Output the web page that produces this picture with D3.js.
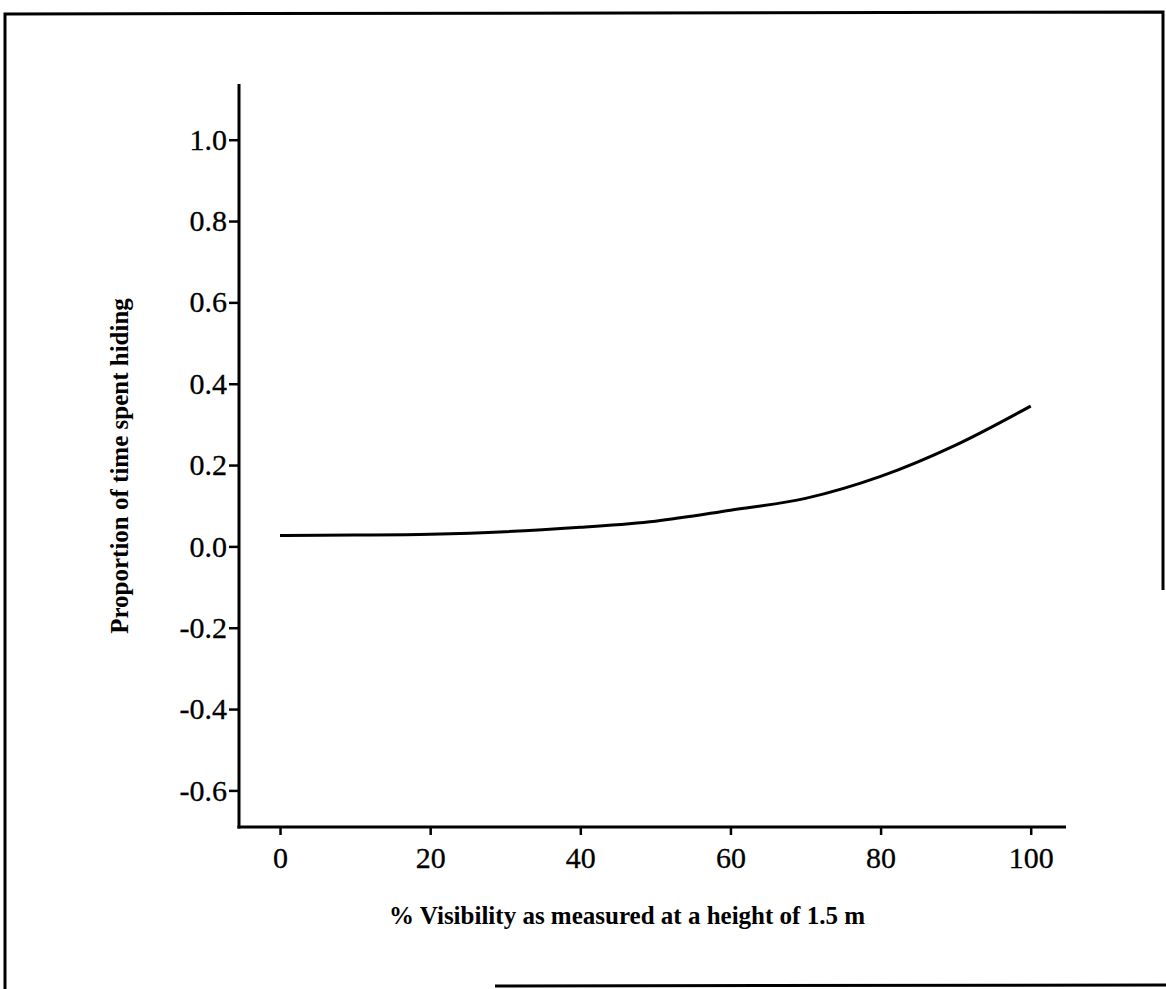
<!DOCTYPE html>
<html>
<head>
<meta charset="utf-8">
<script src="https://cdn.jsdelivr.net/npm/d3@7"></script>
<style>
  body { margin: 0; background: #fff; }
  svg { display: block; }
  .tick text { font-family: "Liberation Serif", "Times New Roman", serif; font-size: 30px; fill: #000; stroke: #000; stroke-width: 0.3px; }
  .title { font-family: "Liberation Serif", "Times New Roman", serif; font-size: 25px; font-weight: bold; fill: #000; }
</style>
</head>
<body>
<div id="chart"></div>
<script>
const width = 1166, height = 989;

// fitted curve
const visibility = [0, 10, 20, 30, 40, 50, 60, 70, 80, 90, 100];
const hiding = [0.027, 0.028, 0.030, 0.036, 0.047, 0.062, 0.089, 0.118, 0.172, 0.249, 0.345];
const xTicks = [0, 20, 40, 60, 80, 100];
const yTicks = [-0.6, -0.4, -0.2, 0.0, 0.2, 0.4, 0.6, 0.8, 1.0];

const svg = d3.select("#chart")
  .append("svg")
  .attr("width", width)
  .attr("height", height);

// scanned page border (partly missing on the right/bottom)
const frame = svg.append("g").attr("stroke", "#000").attr("stroke-width", 3).attr("fill", "none");
frame.append("path").attr("d", "M5,989 L5,14 L1163,12 L1163,590");
frame.append("path").attr("d", "M495,986 L1166,985");

const x = d3.scaleLinear().domain([-5.2, 104.7]).range([241, 1066]);
const y = d3.scaleLinear().domain([-0.69, 1.137]).range([827, 84]);

const fmt = d => d3.format(".1f")(d).replace("\u2212", "-");

const yAxis = svg.append("g")
  .attr("transform", "translate(239,0)")
  .call(d3.axisLeft(y).tickValues(yTicks).tickFormat(fmt).tickSizeOuter(0).tickSize(10).tickPadding(2));

const xAxis = svg.append("g")
  .attr("transform", "translate(0,827)")
  .call(d3.axisBottom(x).tickValues(xTicks).tickFormat(d3.format("d")).tickSizeOuter(0).tickSize(8).tickPadding(12));

[yAxis, xAxis].forEach(a => {
  a.select(".domain").remove();
  a.selectAll(".tick line").attr("stroke", "#000").attr("stroke-width", 2.5);
});

// plain axis lines
svg.append("line").attr("x1", 239).attr("x2", 239).attr("y1", y.range()[1]).attr("y2", 828.5)
  .attr("stroke", "#000").attr("stroke-width", 3);
svg.append("line").attr("x1", 237.5).attr("x2", x.range()[1]).attr("y1", 827).attr("y2", 827)
  .attr("stroke", "#000").attr("stroke-width", 3);

// line
const line = d3.line()
  .x((d, i) => x(visibility[i]))
  .y(d => y(d))
  .curve(d3.curveMonotoneX);

svg.append("path")
  .datum(hiding)
  .attr("d", line)
  .attr("fill", "none")
  .attr("stroke", "#000")
  .attr("stroke-width", 3);

// axis titles
svg.append("text")
  .attr("class", "title")
  .attr("x", 627)
  .attr("y", 924)
  .attr("text-anchor", "middle")
  .text("% Visibility as measured at a height of 1.5 m");

svg.append("text")
  .attr("class", "title")
  .attr("transform", "translate(128,466) rotate(-90)")
  .attr("text-anchor", "middle")
  .text("Proportion of time spent hiding");
</script>
</body>
</html>
